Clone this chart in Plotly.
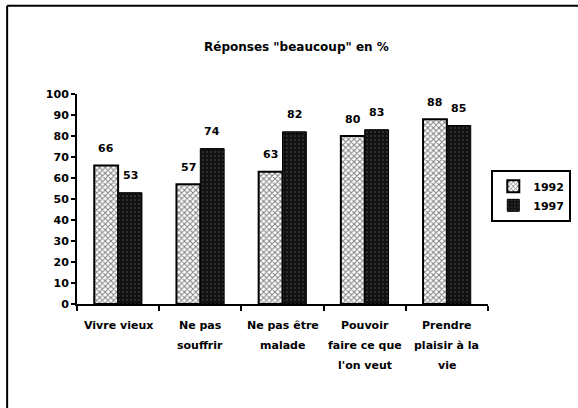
import plotly.graph_objects as go

categories = ["Vivre vieux", "Ne pas<br>souffrir", "Ne pas être<br>malade",
              "Pouvoir<br>faire ce que<br>l'on veut", "Prendre<br>plaisir à la<br>vie"]
cat_ids = ["c1", "c2", "c3", "c4", "c5"]
values_1992 = [66, 57, 63, 80, 88]
values_1997 = [53, 74, 82, 83, 85]
series_names = ["1992", "1997"]
y_ticks = [0, 10, 20, 30, 40, 50, 60, 70, 80, 90, 100]

FONT = "DejaVu Sans"

fig = go.Figure()
fig.add_trace(go.Bar(
    x=cat_ids, y=values_1992, name=series_names[0],
    marker=dict(color="white", line=dict(color="black", width=2),
                pattern=dict(shape="x", fgcolor="black", bgcolor="white",
                             size=4, solidity=0.45)),
))
fig.add_trace(go.Bar(
    x=cat_ids, y=values_1997, name=series_names[1],
    marker=dict(color="#111111", line=dict(color="black", width=1),
                pattern=dict(shape=".", fgcolor="#5a5a5a", bgcolor="#111111",
                             size=4, solidity=0.2)),
))

annotations = []
# value labels
for vals, shift in ((values_1992, -12), (values_1997, 12)):
    for c, v in zip(cat_ids, vals):
        annotations.append(dict(x=c, y=v, xref="x", yref="y", text=str(v),
                                showarrow=False, xshift=shift, yshift=17,
                                font=dict(family=FONT, size=11, color="black",
                                          weight="bold")))
# category labels (one annotation per line for wider line spacing)
for c, lab in zip(cat_ids, categories):
    for i, line in enumerate(lab.split("<br>")):
        annotations.append(dict(x=c, y=0, xref="x", yref="y", text=line,
                                showarrow=False, yshift=-21 - 20 * i,
                                font=dict(family=FONT, size=11, color="black",
                                          weight="bold")))
# title
annotations.append(dict(x=0.535, y=1.265, xref="paper", yref="paper",
                        xanchor="center",
                        text="Réponses \"beaucoup\" en %", showarrow=False,
                        font=dict(family=FONT, size=12, color="black", weight="bold")))

fig.update_layout(
    width=578, height=408,
    margin=dict(l=77, r=90, t=94, b=104, autoexpand=False),
    paper_bgcolor="white", plot_bgcolor="white",
    barmode="group", bargap=0.42, bargroupgap=0,
    showlegend=True,
    legend=dict(x=0.85, y=0.52, xref="container", yref="container",
                xanchor="left", yanchor="middle",
                bordercolor="black", borderwidth=2, bgcolor="white",
                font=dict(family=FONT, size=11, color="black", weight="bold"),
                itemwidth=30, tracegroupgap=0),
    annotations=annotations,
    font=dict(family=FONT, color="black"),
    shapes=[
        dict(type="line", xref="paper", yref="paper", x0=-0.170, x1=1.3,
             y0=1.42, y1=1.42, line=dict(color="black", width=2)),
        dict(type="line", xref="paper", yref="paper", x0=-0.170, x1=-0.170,
             y0=1.42, y1=-0.6, line=dict(color="black", width=2)),
    ],
)
fig.update_xaxes(showticklabels=False, showline=True, linecolor="black", linewidth=2,
                 ticks="outside", ticklen=5, tickcolor="black", tickwidth=2,
                 tickson="boundaries", showgrid=False, zeroline=False)
fig.update_yaxes(range=[0, 100], tickvals=y_ticks, showline=True, linecolor="black",
                 linewidth=2, ticks="outside", ticklen=4, tickcolor="black", tickwidth=2,
                 showgrid=False, zeroline=False,
                 tickfont=dict(family=FONT, size=11, color="black", weight="bold"))

fig.write_html("out.html", config={"displayModeBar": False},
               post_script="document.body.style.margin='0';")
